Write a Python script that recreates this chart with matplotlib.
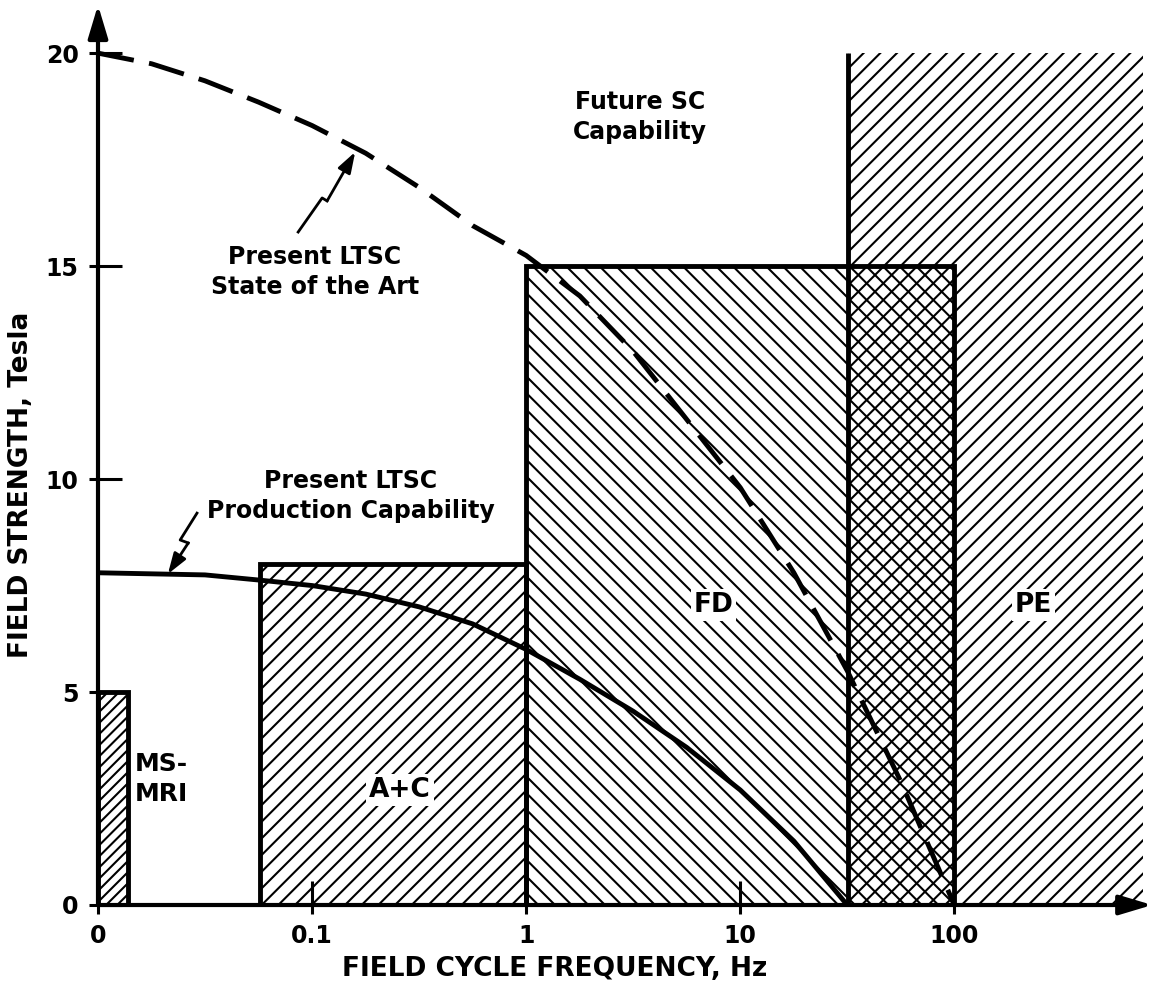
import matplotlib
matplotlib.use("Agg")
import matplotlib.pyplot as plt
from matplotlib.patches import Rectangle
from matplotlib.ticker import FixedLocator, FixedFormatter, NullFormatter

# ---- data -------------------------------------------------------------
# application regions: (f_low, f_high, B_max)
msmri = (0.01, 0.0138, 5.0)
ac = (0.057, 1.0, 8.0)
fd = (1.0, 100.0, 15.0)
pe = (32.0, 760.0, 20.0)

# present LTSC state of the art (dashed)
soa_f = [0.01, 0.0178, 0.0316, 0.0562, 0.1, 0.178, 0.316, 0.562, 1.0,
         1.78, 3.16, 5.62, 10.0, 17.8, 31.6, 56.2, 100.0]
soa_b = [20.0, 19.75, 19.35, 18.85, 18.3, 17.65, 16.85, 15.95, 15.25,
         14.3, 13.0, 11.4, 9.8, 7.8, 5.5, 2.9, 0.0]

# present LTSC production capability (solid)
prod_f = [0.01, 0.0316, 0.0562, 0.1, 0.178, 0.316, 0.562, 1.0,
          1.78, 3.16, 5.62, 10.0, 17.8, 31.6]
prod_b = [7.8, 7.75, 7.63, 7.5, 7.3, 7.0, 6.6, 6.0,
          5.3, 4.55, 3.7, 2.7, 1.5, 0.0]

xticks = [0.01, 0.1, 1, 10, 100]
xtick_labels = ["0", "0.1", "1", "10", "100"]
yticks = [0, 5, 10, 15, 20]
ytick_labels = ["0", "5", "10", "15", "20"]

# ---- style ------------------------------------------------------------
plt.rcParams["font.family"] = ["DejaVu Sans"]
plt.rcParams["font.weight"] = "bold"
plt.rcParams["hatch.linewidth"] = 1.5
FS = 17
LW = 3.5

W, H = 1157, 984
fig = plt.figure(figsize=(W / 100, H / 100), dpi=100)
ax = fig.add_axes([98 / W, 1 - 905 / H, 1049 / W, 900 / H])
ax.set_xscale("log")
ax.set_xlim(0.01, 794)
ax.set_ylim(0, 21.13)
for s in ax.spines.values():
    s.set_visible(False)


def region(lo, hi, top, hatch, outline=True):
    ax.add_patch(Rectangle((lo, 0), hi - lo, top, facecolor="none",
                           edgecolor="black", hatch=hatch, lw=0, zorder=1))
    if outline:
        ax.add_patch(Rectangle((lo, 0), hi - lo, top, fill=False,
                               edgecolor="black", lw=LW, zorder=3,
                               joinstyle="miter"))


region(*msmri, "///")
region(*ac, "//")
region(*fd, "\\\\")
region(*pe, "//", outline=False)
ax.plot([pe[0], pe[0]], [0, pe[2]], color="black", lw=LW, zorder=3,
        solid_capstyle="butt")

# curves
ax.plot(soa_f, soa_b, color="black", lw=LW, dashes=(7.5, 3.2), zorder=4)
ax.plot(prod_f, prod_b, color="black", lw=LW, zorder=4,
        solid_capstyle="round", solid_joinstyle="round")

# axes with arrows
arrow_kw = dict(arrowstyle="-|>,head_length=1.0,head_width=0.3",
                mutation_scale=20, lw=3, color="black",
                shrinkA=0, shrinkB=0)
ax.annotate("", xy=(0, 1.0), xytext=(0, 0), xycoords="axes fraction",
            textcoords="axes fraction", arrowprops=arrow_kw,
            annotation_clip=False, zorder=5)
ax.annotate("", xy=(1.005, 0), xytext=(0, 0), xycoords="axes fraction",
            textcoords="axes fraction", arrowprops=arrow_kw,
            annotation_clip=False, zorder=5)

# ticks: long inward part (major) plus short outward stub (minor)
for axis, ticks, labels in ((ax.xaxis, xticks, xtick_labels),
                            (ax.yaxis, yticks, ytick_labels)):
    axis.remove_overlapping_locs = False
    axis.set_major_locator(FixedLocator(ticks))
    axis.set_major_formatter(FixedFormatter(labels))
    axis.set_minor_locator(FixedLocator(ticks))
    axis.set_minor_formatter(NullFormatter())
ax.tick_params(which="major", direction="in", length=17, width=2.2,
               labelsize=17, pad=14)
ax.tick_params(which="minor", direction="out", length=6.5, width=2.2)

ax.set_xlabel("FIELD CYCLE FREQUENCY, Hz", fontsize=19, fontweight="bold")
ax.set_ylabel("FIELD STRENGTH, Tesla", fontsize=19, fontweight="bold")
ax.xaxis.set_label_coords(0.435, -0.057)
ax.yaxis.set_label_coords(-0.061, 0.467)

# labels
ax.text(3.4, 18.5, "Future SC\nCapability", fontsize=FS, ha="center",
        va="center", linespacing=1.3)
ax.text(0.103, 14.86, "Present LTSC\nState of the Art", fontsize=FS,
        ha="center", va="center", linespacing=1.3)
ax.text(0.151, 9.6, "Present LTSC\nProduction Capability", fontsize=FS,
        ha="center", va="center", linespacing=1.3)
box = dict(facecolor="white", edgecolor="none", pad=2)
ax.text(7.5, 7.04, "FD", fontsize=FS + 2, ha="center", va="center",
        bbox=box, zorder=6)
ax.text(234, 7.04, "PE", fontsize=FS + 2, ha="center", va="center",
        bbox=box, zorder=6)
ax.text(0.258, 2.7, "A+C", fontsize=FS + 2, ha="center", va="center",
        bbox=box, zorder=6)
ax.text(0.0149, 2.96, "MS-\nMRI", fontsize=FS + 1, ha="left", va="center",
        linespacing=1.3, zorder=6)

# lightning-bolt leaders
lead_kw = dict(arrowstyle="-|>,head_length=0.9,head_width=0.3",
               mutation_scale=14, lw=2, color="black", shrinkA=0, shrinkB=0)
ax.plot([0.0861, 0.1114, 0.1175], [15.8, 16.6, 16.53], color="black", lw=2,
        zorder=5)
ax.annotate("", xy=(0.159, 17.68), xytext=(0.1175, 16.53),
            arrowprops=lead_kw, zorder=5)
ax.plot([0.029, 0.0242, 0.0264], [9.2, 8.57, 8.50], color="black", lw=2,
        zorder=5)
ax.annotate("", xy=(0.0212, 7.77), xytext=(0.0264, 8.50),
            arrowprops=lead_kw, zorder=5)

fig.savefig("out.png", dpi=100, facecolor="white")
